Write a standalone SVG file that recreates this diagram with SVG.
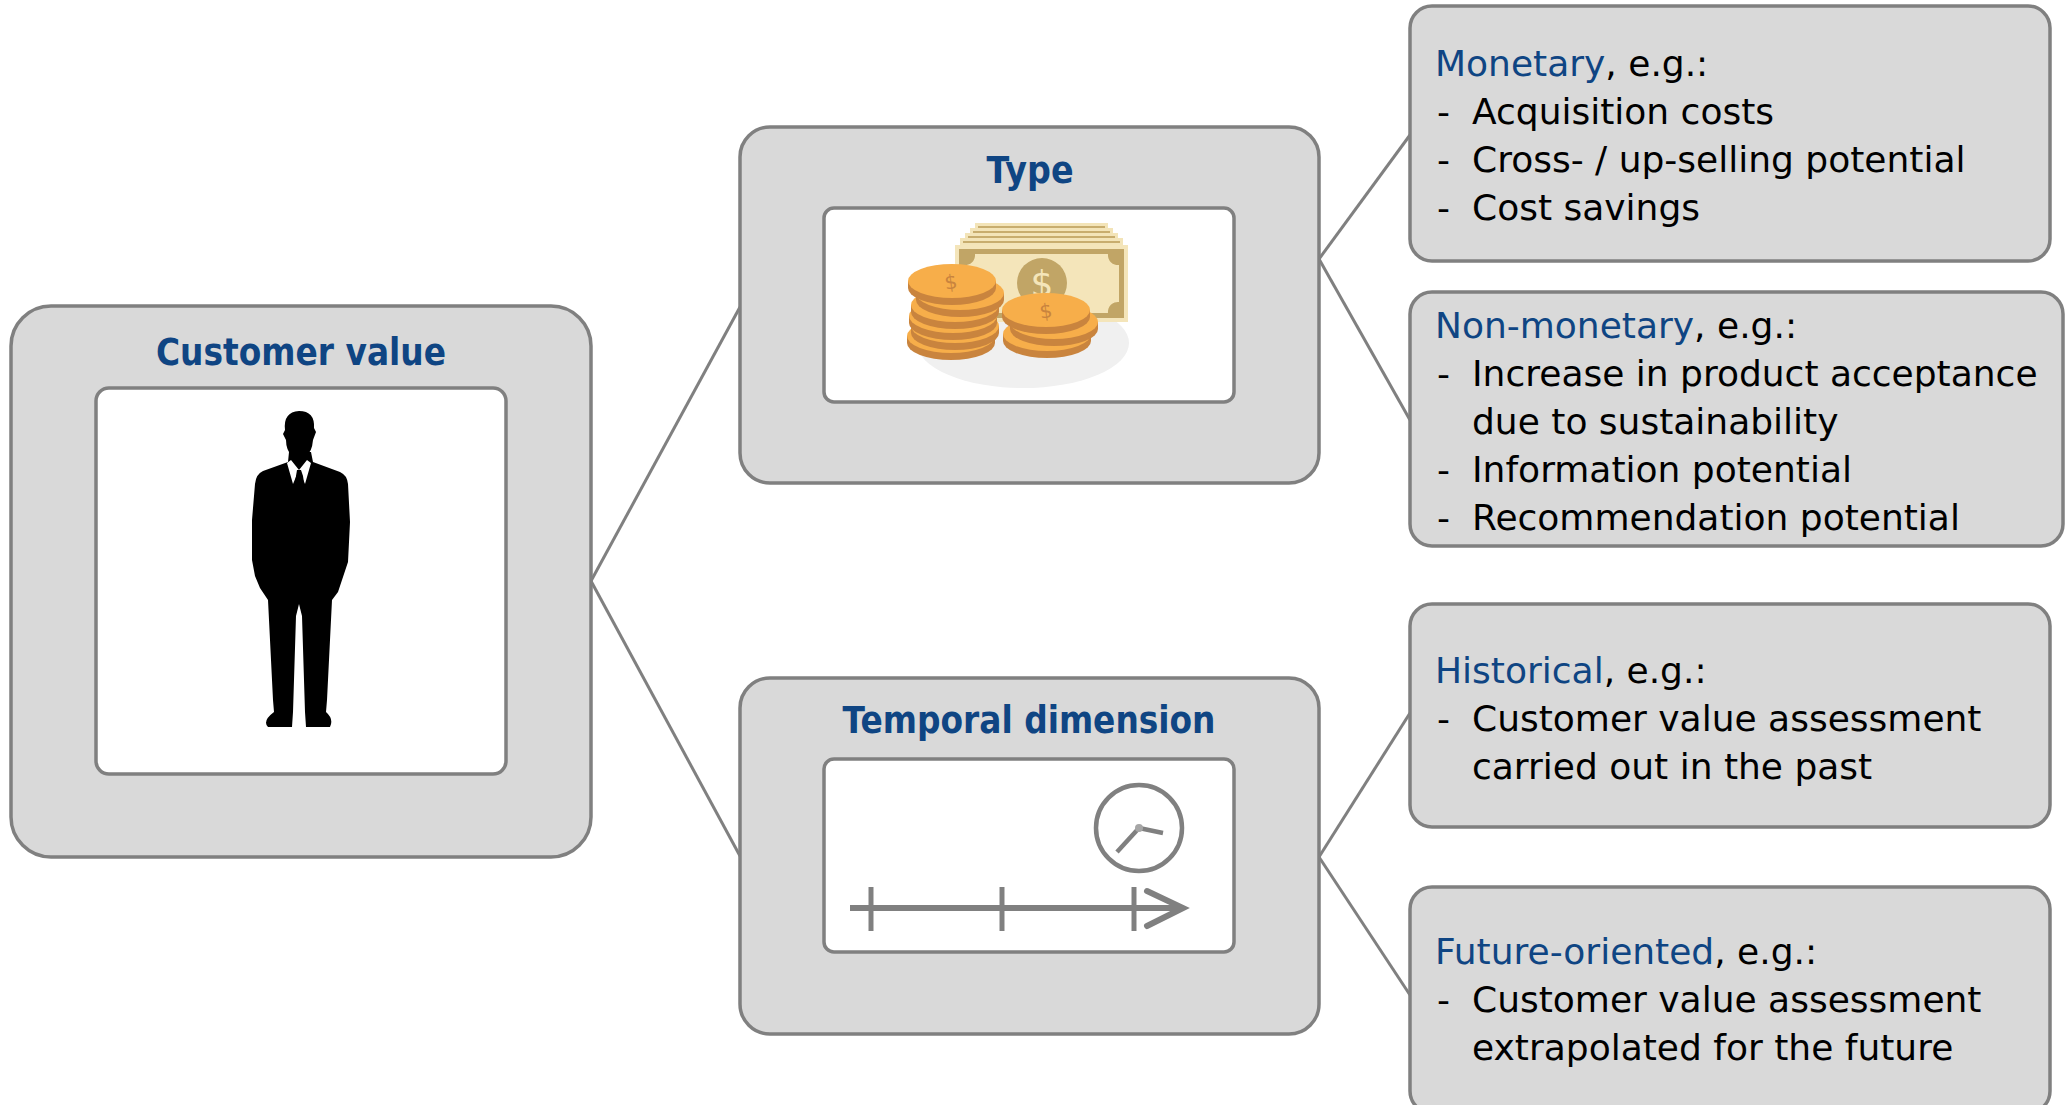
<svg xmlns="http://www.w3.org/2000/svg" width="2067" height="1105" viewBox="0 0 2067 1105">
  <style>
    .box { fill: #d9d9d9; stroke: #808080; stroke-width: 3.5; }
    .inner { fill: #ffffff; stroke: #808080; stroke-width: 3.5; }
    .link { stroke: #808080; stroke-width: 3; fill: none; }
    .title { font-family: 'DejaVu Sans', Verdana, sans-serif; font-weight: bold; font-size: 37px; fill: #0f4583; text-anchor: middle; }
    .body { font-family: 'DejaVu Sans', Verdana, sans-serif; font-size: 36px; fill: #000000; }
    .hl { fill: #0f4583; }
    .tl { stroke: #808080; fill: none; }
    .coinTop { fill: #f7ae4a; }
    .coinEdge { fill: #c9843e; }
  </style>
  <defs>
    <!-- single coin: darker rim below, orange face on top -->
    <g id="coin">
      <ellipse cx="0" cy="7" rx="44" ry="17" class="coinEdge"/>
      <rect x="-44" y="0" width="88" height="7" class="coinEdge"/>
      <ellipse cx="0" cy="0" rx="44" ry="17" class="coinTop"/>
    </g>
  </defs>

  <rect width="2067" height="1105" fill="#ffffff"/>

  <!-- connectors -->
  <g id="connectors">
    <line class="link" x1="591" y1="581" x2="740" y2="307"/>
    <line class="link" x1="591" y1="581" x2="740" y2="856"/>
    <line class="link" x1="1319" y1="259" x2="1410" y2="135"/>
    <line class="link" x1="1319" y1="259" x2="1410" y2="420"/>
    <line class="link" x1="1319" y1="857" x2="1410" y2="713"/>
    <line class="link" x1="1319" y1="857" x2="1410" y2="995"/>
  </g>

  <!-- customer value -->
  <g id="customer-value">
    <rect class="box" x="11" y="306" width="580" height="551" rx="40"/>
    <text class="title" x="301" y="365" textLength="290" lengthAdjust="spacingAndGlyphs">Customer value</text>
    <rect class="inner" x="96" y="388" width="410" height="386" rx="13"/>
    <!-- businessman silhouette -->
    <g id="person">
      <path fill="#000" d="M285,430 Q283,412 299,411 Q315,411 314,428 L316,432 L313,440 Q312,452 306,456 L292,456 Q286,450 286,440 L283,434 Z"/>
      <path fill="#000" d="M289,452 L288,462 L263,471 Q256,474 255,484 L252,520 L252,560 L255,576 L260,588 L264,594 L268,600 L273,700 L274,712 Q262,721 268,727 L292,727 L293,712 L296,616 L299,604 L302,616 L305,712 L306,727 L330,727 Q334,719 326,712 L327,700 L332,600 L338,592 L342,580 L348,562 L350,522 L348,484 Q347,475 340,472 L313,462 L311,452 Z"/>
      <path fill="#fff" d="M291,460 L299,470 L307,460 L311,463 L305,484 L300,472 L298,472 L293,484 L287,463 Z"/>
      <path fill="#000" d="M297,470 L301,470 L303,476 L305,490 L299,496 L294,490 L296,476 Z"/>
    </g>
  </g>

  <!-- type -->
  <g id="type">
    <rect class="box" x="740" y="127" width="579" height="356" rx="30"/>
    <text class="title" x="1030" y="183" textLength="87" lengthAdjust="spacingAndGlyphs">Type</text>
    <rect class="inner" x="824" y="208" width="410" height="194" rx="10"/>
    <!-- money illustration -->
    <g id="money">
      <ellipse cx="1023" cy="343" rx="106" ry="45" fill="#f0f0f0"/>
      <!-- bill stack -->
      <rect x="975" y="223" width="133" height="30" fill="#f3e4b8"/>
      <rect x="978" y="226" width="127" height="2" fill="#c8ad6e"/>
      <rect x="970" y="228" width="143" height="30" fill="#f3e4b8"/>
      <rect x="973" y="231" width="137" height="2" fill="#c8ad6e"/>
      <rect x="965" y="233" width="153" height="30" fill="#f3e4b8"/>
      <rect x="968" y="236" width="147" height="2" fill="#c8ad6e"/>
      <rect x="960" y="238" width="163" height="30" fill="#f3e4b8"/>
      <rect x="963" y="241" width="157" height="2" fill="#c8ad6e"/>
      <rect x="955" y="245" width="173" height="77" fill="#f4e5ba"/>
      <rect x="959" y="249" width="165" height="69" fill="#c1a566"/>
      <path fill="#f4e5ba" d="M975,254 L1108,254 A10,10 0 0 0 1119,265 L1119,302 A10,10 0 0 0 1108,313 L975,313 A10,10 0 0 0 964,302 L964,265 A10,10 0 0 0 975,254 Z"/>
      <circle cx="1042" cy="283" r="25" fill="#c1a566"/>
      <text x="1042" y="296" font-family="'DejaVu Sans', sans-serif" font-size="36" fill="#f4e5ba" text-anchor="middle">$</text>
      <!-- left coin stack -->
      <use href="#coin" x="951" y="336"/>
      <use href="#coin" x="955" y="326"/>
      <use href="#coin" x="953" y="316"/>
      <use href="#coin" x="955" y="305"/>
      <use href="#coin" x="960" y="293"/>
      <use href="#coin" x="952" y="281"/>
      <text x="951" y="289" font-family="'DejaVu Sans', sans-serif" font-size="20" fill="#c9843e" text-anchor="middle" transform="rotate(-8 951 283)">$</text>
      <!-- right coin stack -->
      <use href="#coin" x="1047" y="334"/>
      <use href="#coin" x="1054" y="322"/>
      <use href="#coin" x="1046" y="310"/>
      <text x="1046" y="318" font-family="'DejaVu Sans', sans-serif" font-size="20" fill="#c9843e" text-anchor="middle" transform="rotate(-8 1046 312)">$</text>
    </g>
  </g>

  <!-- temporal dimension -->
  <g id="temporal">
    <rect class="box" x="740" y="678" width="579" height="356" rx="30"/>
    <text class="title" x="1029" y="733" textLength="373" lengthAdjust="spacingAndGlyphs">Temporal dimension</text>
    <rect class="inner" x="824" y="759" width="410" height="193" rx="10"/>
    <!-- timeline with clock -->
    <g id="timeline">
      <line class="tl" x1="850" y1="908" x2="1183" y2="908" stroke-width="6"/>
      <line class="tl" x1="871" y1="887" x2="871" y2="931" stroke-width="5"/>
      <line class="tl" x1="1002" y1="887" x2="1002" y2="931" stroke-width="5"/>
      <line class="tl" x1="1134" y1="887" x2="1134" y2="931" stroke-width="5"/>
      <polyline class="tl" points="1147,891 1183,908 1147,926" stroke-width="6" stroke-linecap="round" stroke-linejoin="miter"/>
      <circle class="tl" cx="1139" cy="828" r="43" stroke-width="4.5"/>
      <line class="tl" x1="1139" y1="828" x2="1117" y2="852" stroke-width="4.5"/>
      <line class="tl" x1="1139" y1="828" x2="1163" y2="833" stroke-width="4.5"/>
      <circle cx="1139" cy="828" r="4" fill="#a6a6a6"/>
    </g>
  </g>

  <!-- monetary -->
  <g id="monetary">
    <rect class="box" x="1410" y="6" width="640" height="255" rx="22"/>
    <text class="body" x="1435" y="76"><tspan class="hl">Monetary</tspan>, e.g.:</text>
    <text class="body" x="1437" y="124">-</text><text class="body" x="1472" y="124">Acquisition costs</text>
    <text class="body" x="1437" y="172">-</text><text class="body" x="1472" y="172">Cross- / up-selling potential</text>
    <text class="body" x="1437" y="220">-</text><text class="body" x="1472" y="220">Cost savings</text>
  </g>

  <!-- non-monetary -->
  <g id="non-monetary">
    <rect class="box" x="1410" y="292" width="653" height="254" rx="22"/>
    <text class="body" x="1435" y="338"><tspan class="hl">Non-monetary</tspan>, e.g.:</text>
    <text class="body" x="1437" y="386">-</text><text class="body" x="1472" y="386">Increase in product acceptance</text>
    <text class="body" x="1472" y="434">due to sustainability</text>
    <text class="body" x="1437" y="482">-</text><text class="body" x="1472" y="482">Information potential</text>
    <text class="body" x="1437" y="530">-</text><text class="body" x="1472" y="530">Recommendation potential</text>
  </g>

  <!-- historical -->
  <g id="historical">
    <rect class="box" x="1410" y="604" width="640" height="223" rx="22"/>
    <text class="body" x="1435" y="683"><tspan class="hl">Historical</tspan>, e.g.:</text>
    <text class="body" x="1437" y="731">-</text><text class="body" x="1472" y="731">Customer value assessment</text>
    <text class="body" x="1472" y="779">carried out in the past</text>
  </g>

  <!-- future-oriented -->
  <g id="future-oriented">
    <rect class="box" x="1410" y="887" width="640" height="226" rx="22"/>
    <text class="body" x="1435" y="964"><tspan class="hl">Future-oriented</tspan>, e.g.:</text>
    <text class="body" x="1437" y="1012">-</text><text class="body" x="1472" y="1012">Customer value assessment</text>
    <text class="body" x="1472" y="1060">extrapolated for the future</text>
  </g>
</svg>
